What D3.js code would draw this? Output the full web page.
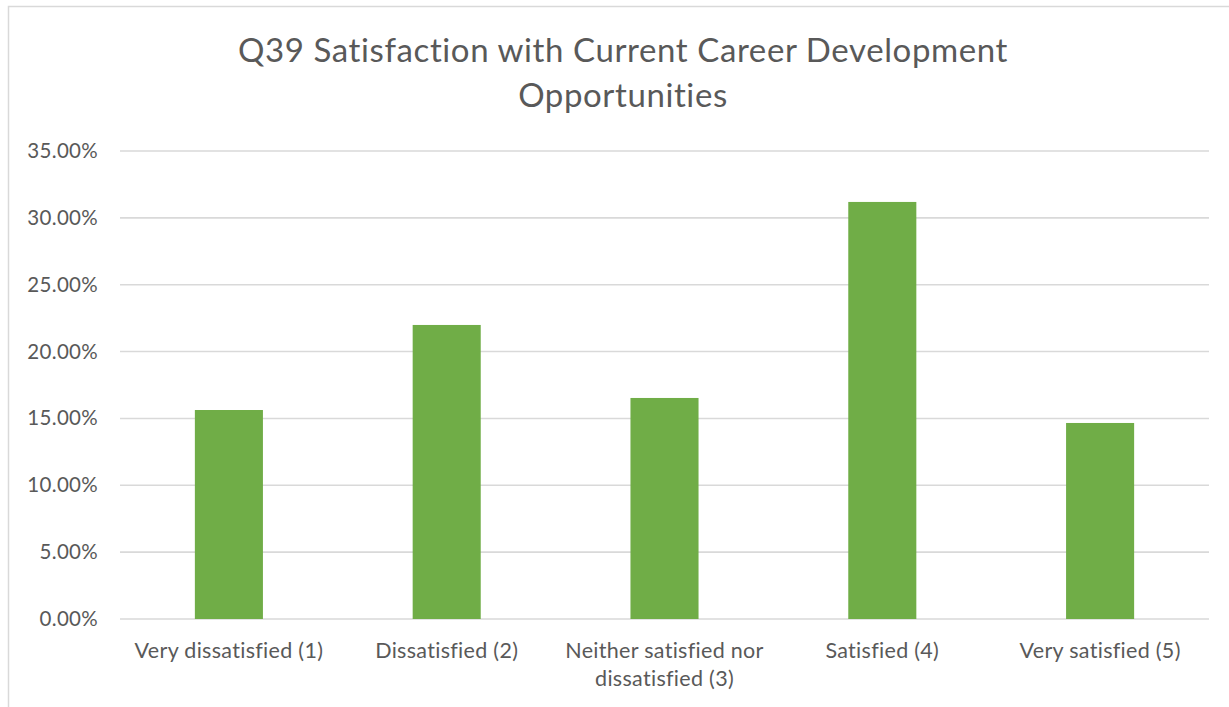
<!DOCTYPE html>
<html>
<head>
<meta charset="utf-8">
<script src="https://cdn.jsdelivr.net/npm/d3@7"></script>
<style>
  html, body { margin: 0; padding: 0; background: #fff; }
  svg { display: block; }
</style>
</head>
<body>
<svg id="chart" width="1229" height="707"></svg>
<script>
// Survey responses, Q39
const categories = [
  ["Very dissatisfied (1)"],
  ["Dissatisfied (2)"],
  ["Neither satisfied nor", "dissatisfied (3)"],
  ["Satisfied (4)"],
  ["Very satisfied (5)"]
];
const shares = [0.1563, 0.2199, 0.1653, 0.3119, 0.1466];
const yTicks = [0, 0.05, 0.10, 0.15, 0.20, 0.25, 0.30, 0.35];
const titleLines = ["Q39 Satisfaction with Current Career Development", "Opportunities"];

const W = 1229, H = 707;
const font = "Lato, 'Open Sans', sans-serif";
const svg = d3.select("#chart");

// chart frame
svg.append("rect")
  .attr("x", 8.5).attr("y", 6.5)
  .attr("width", W + 10).attr("height", H + 10)
  .attr("fill", "#fff").attr("stroke", "#d9d9d9").attr("stroke-width", 1.5);

const plot = { left: 120, right: 1209, top: 151, bottom: 619 };

const x = d3.scaleBand()
  .domain(d3.range(categories.length))
  .range([plot.left, plot.right])
  .paddingInner(0.6875)
  .paddingOuter(0.34375);

const y = d3.scaleLinear()
  .domain([0, 0.35])
  .range([plot.bottom, plot.top]);

// gridlines
svg.append("g")
  .selectAll("line")
  .data(yTicks)
  .join("line")
  .attr("x1", plot.left).attr("x2", plot.right)
  .attr("y1", d => y(d)).attr("y2", d => y(d))
  .attr("stroke", "#d9d9d9").attr("stroke-width", 1.6);

// y axis labels
const yAxis = d3.axisLeft(y).tickValues(yTicks).tickSize(0).tickPadding(22)
  .tickFormat(d => (d * 100).toFixed(2) + "%");
const gy = svg.append("g").attr("transform", `translate(${plot.left},0)`).call(yAxis);
gy.select(".domain").remove();
gy.selectAll("text")
  .attr("font-family", font).attr("font-size", 20.5).attr("fill", "#595959")
  .attr("letter-spacing", 0.3);

// bars
svg.append("g")
  .selectAll("rect")
  .data(shares)
  .join("rect")
  .attr("x", (d, i) => x(i))
  .attr("width", x.bandwidth())
  .attr("y", d => y(d))
  .attr("height", d => y(0) - y(d))
  .attr("fill", "#70ad47");

// category labels
const xAxis = d3.axisBottom(x).tickSize(0).tickPadding(0).tickFormat(() => "");
const gx = svg.append("g").attr("transform", `translate(0,${plot.bottom})`).call(xAxis);
gx.select(".domain").remove();
gx.selectAll(".tick").each(function(i) {
  const t = d3.select(this).append("text")
    .attr("font-family", font).attr("font-size", 21.5).attr("fill", "#595959")
    .attr("letter-spacing", 0.3)
    .attr("text-anchor", "middle");
  categories[i].forEach((line, k) => {
    t.append("tspan").attr("x", 0).attr("y", 39 + k * 28).text(line);
  });
});

// title
const title = svg.append("text")
  .attr("font-family", font).attr("font-size", 33).attr("fill", "#595959")
  .attr("letter-spacing", 0.6)
  .attr("text-anchor", "middle");
titleLines.forEach((line, k) => {
  title.append("tspan").attr("x", 623).attr("y", 62 + k * 45).text(line);
});
</script>
</body>
</html>
